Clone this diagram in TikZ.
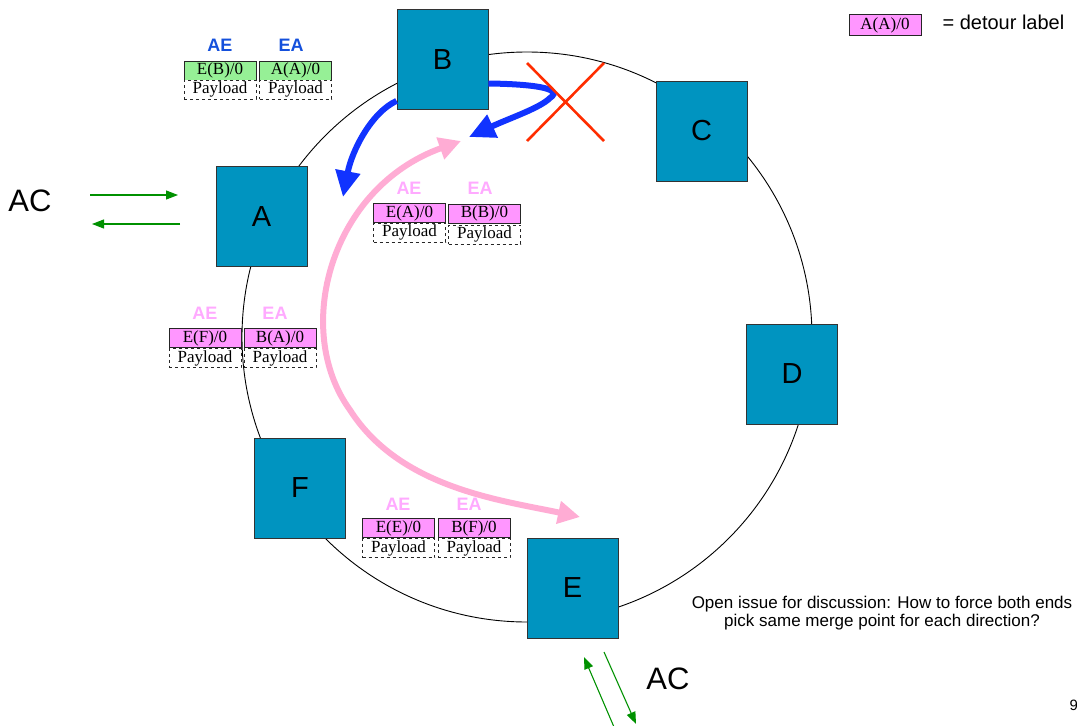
\documentclass[tikz,border=0pt]{standalone}
\usepackage{fontspec}
\setmainfont{Liberation Sans}
\newfontfamily\lblfont{Liberation Serif}
\usetikzlibrary{arrows.meta}
\definecolor{routerfill}{RGB}{0,148,192}
\definecolor{greenfill}{RGB}{150,240,150}
\definecolor{pinkfill}{RGB}{255,150,255}
\definecolor{hdrblue}{RGB}{20,80,220}
\definecolor{hdrpink}{RGB}{255,170,255}
\definecolor{arrblue}{RGB}{17,51,255}
\definecolor{arrpink}{RGB}{255,172,212}
\definecolor{xred}{RGB}{255,45,0}
\definecolor{acgreen}{RGB}{0,145,0}
\tikzset{
  router/.style={draw=black!80, line width=0.8pt, fill=routerfill, minimum width=91pt, minimum height=100pt, inner sep=0pt, font=\fontsize{29}{30}\selectfont},
  lblbox/.style={draw=black!85, line width=0.9pt, minimum width=72pt, minimum height=19pt, inner sep=0pt, font=\lblfont\fontsize{17}{18}\selectfont},
  greenlbl/.style={lblbox, fill=greenfill},
  pinklbl/.style={lblbox, fill=pinkfill},
  paybox/.style={draw=black!85, dashed, line width=0.8pt, fill=white, minimum width=72pt, minimum height=19pt, inner sep=0pt, font=\lblfont\fontsize{17}{18}\selectfont},
  hdr/.style={font=\bfseries\fontsize{18}{19}\selectfont},
  bigtxt/.style={font=\fontsize{31}{33}\selectfont},
  acarrow/.style={draw=acgreen, line width=1.1pt, -{Triangle[length=12pt,width=9pt]}},
  bluearrow/.style={draw=arrblue, line width=6pt, -{Triangle[length=26pt,width=24pt]}},
  pinkarrow/.style={draw=arrpink, line width=6pt, {Triangle[length=22pt,width=22pt]}-{Triangle[length=22pt,width=22pt]}},
}
\begin{document}
\begin{tikzpicture}[x=1pt,y=-1pt]
\useasboundingbox (0,0) rectangle (1077,726);
% ring
\draw[line width=0.9pt] (527,337) circle [radius=285pt];
% routers
\node[router] (B) at (442.5,59.5) {B};
\node[router] (C) at (701.5,131) {C};
\node[router] (A) at (261.5,216.5) {A};
\node[router] (D) at (792,374) {D};
\node[router] (F) at (300,488) {F};
\node[router] (E) at (572.5,588) {E};
% top-left label stack (green)
\node[hdr, text=hdrblue] (hAE1) at (220,45) {AE};
\node[hdr, text=hdrblue] (hEA1) at (291,45) {EA};
\node[greenlbl] (l1a) at (220,70.5) {E(B)/0};
\node[greenlbl] (l1b) at (295.5,70.5) {A(A)/0};
\node[paybox] (p1a) at (220,89.5) {Payload};
\node[paybox] (p1b) at (295.5,89.5) {Payload};
% center label stack
\node[hdr, text=hdrpink] (hAE2) at (409,188) {AE};
\node[hdr, text=hdrpink] (hEA2) at (480,188) {EA};
\node[pinklbl] (l2a) at (409.5,213) {E(A)/0};
\node[pinklbl] (l2b) at (484.5,213.5) {B(B)/0};
\node[paybox] (p2a) at (409.5,232.5) {Payload};
\node[paybox] (p2b) at (484.5,234.5) {Payload};
% left label stack
\node[hdr, text=hdrpink] (hAE3) at (205,313) {AE};
\node[hdr, text=hdrpink] (hEA3) at (275,313) {EA};
\node[pinklbl] (l3a) at (205,338) {E(F)/0};
\node[pinklbl] (l3b) at (280,338) {B(A)/0};
\node[paybox] (p3a) at (205,358) {Payload};
\node[paybox] (p3b) at (280,358) {Payload};
% bottom label stack
\node[hdr, text=hdrpink] (hAE4) at (398,504) {AE};
\node[hdr, text=hdrpink] (hEA4) at (469,504) {EA};
\node[pinklbl] (l4a) at (398.5,528) {E(E)/0};
\node[pinklbl] (l4b) at (474,528) {B(F)/0};
\node[paybox] (p4a) at (398.5,548) {Payload};
\node[paybox] (p4b) at (474,548) {Payload};
% legend
\node[pinklbl, minimum width=72pt, minimum height=21pt] (leg) at (885,25) {A(A)/0};
\node[anchor=west, font=\fontsize{20}{22}\selectfont] (legt) at (939,22) {= detour label};
% blue arrows
\coordinate (bA) at (343,197);
\coordinate (bL) at (469,137);
\draw[bluearrow] ([yshift=9pt]B.south west) .. controls (372,112) and (352,150) .. (bA);
\draw[bluearrow] ([yshift=-24pt]B.east) .. controls (530,84) and (565,88) .. (550,98) .. controls (540,108) and (510,118) .. (bL);
% pink arrow
\coordinate (pS) at (461,141);
\coordinate (pE) at (580,517);
\draw[pinkarrow] (pS) .. controls (330,188) and (292,330) .. (350,410) .. controls (400,488) and (500,500) .. (pE);
% red cross
\coordinate (x1) at (527,63);
\coordinate (x2) at (604,141);
\coordinate (x3) at (604,63);
\coordinate (x4) at (527,141);
\draw[xred, line width=2.6pt] (x1) -- (x2);
\draw[xred, line width=2.6pt] (x3) -- (x4);
% AC left
\node[bigtxt] (acl) at (30,201) {AC};
\coordinate (g1s) at (90,195);
\coordinate (g1e) at (178,195);
\coordinate (g2s) at (180,224);
\coordinate (g2e) at (92,224);
\draw[acarrow] (g1s) -- (g1e);
\draw[acarrow] (g2s) -- (g2e);
% AC bottom
\node[bigtxt] (acb) at (668,679) {AC};
\coordinate (g3s) at (614,727);
\coordinate (g3e) at (584,657);
\coordinate (g4s) at (604,652);
\coordinate (g4e) at (636,724);
\draw[acarrow] (g3s) -- (g3e);
\draw[acarrow] (g4s) -- (g4e);
% open issue text
\node[align=center, font=\fontsize{17}{18}\selectfont] (note) at (882,613) {Open issue for discussion: How to force both ends\\pick same merge point for each direction?};
\node[font=\fontsize{15}{17}\selectfont, anchor=west] (pg) at (1066,705) {9};
\end{tikzpicture}
\end{document}
